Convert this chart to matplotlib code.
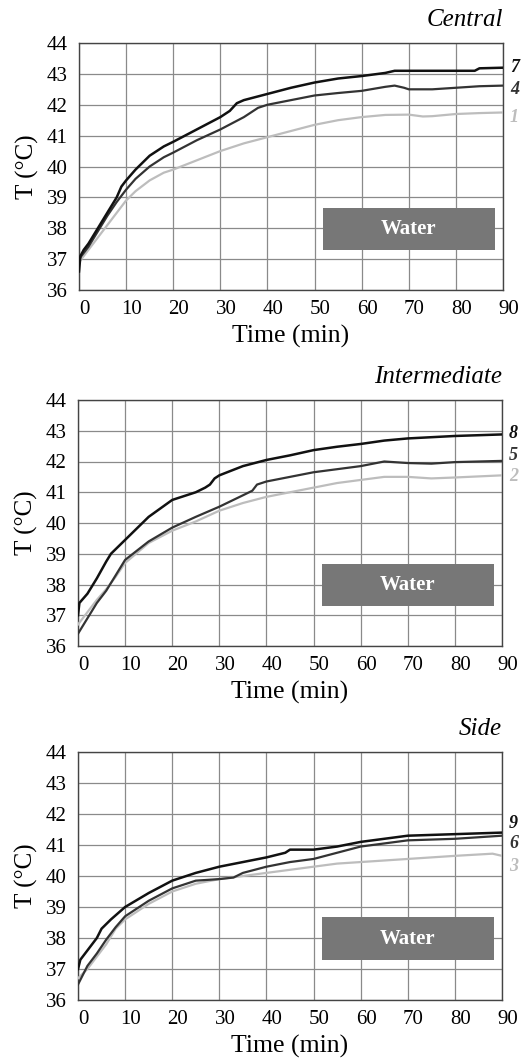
import numpy as np
import matplotlib
matplotlib.use("Agg")
import matplotlib.pyplot as plt
from matplotlib.patches import Rectangle
from matplotlib.transforms import ScaledTranslation

plt.rcParams['font.family'] = ['Liberation Serif', 'DejaVu Serif']

# Central probes (7, 4, 1)
t_c7 = [0, 0.3, 1, 2, 4, 6, 8, 9, 10, 12, 15, 18, 20, 25, 30, 32, 33.5, 35, 40, 45, 50, 55, 60, 65, 67, 70, 75, 80, 84, 85, 90]
c7 = [36.6, 37.1, 37.3, 37.5, 38.0, 38.5, 39.0, 39.35, 39.55, 39.9, 40.35, 40.65, 40.8, 41.2, 41.6, 41.8, 42.05, 42.15, 42.35, 42.55, 42.72, 42.85, 42.93, 43.03, 43.1, 43.1, 43.1, 43.1, 43.1, 43.18, 43.2]
t_c4 = [0, 2, 4, 6, 8, 10, 12, 15, 18, 20, 25, 30, 35, 38, 40, 45, 50, 55, 60, 65, 67, 69, 70, 75, 80, 85, 90]
c4 = [37.0, 37.4, 37.9, 38.4, 38.85, 39.25, 39.6, 40.0, 40.3, 40.45, 40.85, 41.2, 41.6, 41.9, 42.0, 42.15, 42.3, 42.38, 42.45, 42.58, 42.62, 42.55, 42.5, 42.5, 42.55, 42.6, 42.62]
t_c1 = [0, 2, 4, 6, 8, 10, 12, 15, 18, 20, 25, 30, 35, 40, 45, 50, 55, 60, 65, 70, 73, 75, 80, 85, 90]
c1 = [36.9, 37.3, 37.7, 38.1, 38.5, 38.9, 39.2, 39.55, 39.8, 39.9, 40.2, 40.5, 40.75, 40.95, 41.15, 41.35, 41.5, 41.6, 41.67, 41.68, 41.62, 41.63, 41.7, 41.73, 41.75]

# Intermediate probes (8, 5, 2)
t_i8 = [0, 0.3, 2, 4, 6, 7, 10, 15, 20, 25, 27, 28, 29, 30, 35, 40, 45, 50, 55, 60, 65, 70, 80, 90]
i8 = [37.0, 37.4, 37.7, 38.2, 38.75, 39.0, 39.45, 40.2, 40.75, 41.0, 41.15, 41.25, 41.45, 41.55, 41.85, 42.05, 42.2, 42.37, 42.48, 42.57, 42.68, 42.75, 42.83, 42.88]
t_i5 = [0, 2, 4, 6, 8, 10, 15, 20, 25, 30, 35, 37, 38, 40, 45, 50, 55, 60, 65, 70, 75, 80, 85, 90]
i5 = [36.4, 36.9, 37.4, 37.8, 38.3, 38.8, 39.4, 39.85, 40.2, 40.53, 40.9, 41.05, 41.25, 41.35, 41.5, 41.65, 41.75, 41.85, 42.0, 41.95, 41.93, 41.98, 42.0, 42.02]
t_i2 = [0, 2, 4, 6, 8, 10, 15, 20, 25, 30, 35, 40, 45, 50, 55, 60, 65, 70, 75, 80, 90]
i2 = [36.7, 37.1, 37.5, 37.85, 38.25, 38.7, 39.35, 39.75, 40.05, 40.4, 40.65, 40.85, 41.0, 41.15, 41.3, 41.4, 41.5, 41.5, 41.45, 41.48, 41.55]

# Side probes (9, 6, 3)
t_s9 = [0, 0.5, 2, 4, 5, 7, 10, 15, 20, 25, 30, 35, 40, 44, 45, 50, 55, 60, 65, 70, 80, 90]
s9 = [37.0, 37.3, 37.6, 38.0, 38.3, 38.6, 39.0, 39.45, 39.85, 40.1, 40.3, 40.45, 40.6, 40.75, 40.85, 40.85, 40.95, 41.1, 41.2, 41.3, 41.35, 41.4]
t_s6 = [0, 2, 4, 6, 8, 10, 15, 20, 25, 30, 33, 35, 40, 45, 50, 55, 60, 65, 70, 80, 90]
s6 = [36.5, 37.1, 37.5, 37.95, 38.35, 38.7, 39.2, 39.6, 39.85, 39.9, 39.95, 40.1, 40.3, 40.45, 40.55, 40.75, 40.95, 41.05, 41.15, 41.2, 41.3]
t_s3 = [0, 2, 4, 6, 8, 10, 15, 20, 25, 30, 35, 40, 45, 50, 55, 60, 70, 80, 88, 90]
s3 = [36.7, 37.0, 37.4, 37.8, 38.3, 38.6, 39.1, 39.5, 39.75, 39.9, 40.0, 40.1, 40.2, 40.3, 40.4, 40.45, 40.55, 40.65, 40.72, 40.65]

titles = ["Central", "Intermediate", "Side"]
panels = [
    [(t_c7, c7, "7"), (t_c4, c4, "4"), (t_c1, c1, "1")],
    [(t_i8, i8, "8"), (t_i5, i5, "5"), (t_i2, i2, "2")],
    [(t_s9, s9, "9"), (t_s6, s6, "6"), (t_s3, s3, "3")],
]
label_y = [[43.2, 42.5, 41.6], [42.9, 42.2, 41.5], [41.7, 41.05, 40.3]]
colors = ["#111111", "#333333", "#bdbdbd"]
widths = [1.8, 1.6, 1.6]

W, H = 521, 1061
fig = plt.figure(figsize=(W / 100, H / 100), dpi=100)
boxes = [(79, 43, 503, 290), (78, 400, 502, 646), (78, 752, 502, 1000)]
shift = ScaledTranslation(4 / 72, 0, fig.dpi_scale_trans)

for k, (l, t, r, b) in enumerate(boxes):
    ax = fig.add_axes([l / W, 1 - b / H, (r - l) / W, (b - t) / H])
    for j, (x, y, name) in enumerate(panels[k]):
        ax.plot(x, y, color=colors[j], lw=widths[j], zorder=3 - j * 0.1)
        ax.text(91.5, label_y[k][j], name, color=colors[j], fontsize=13,
                fontweight='bold', style='italic', va='center', ha='left', clip_on=False)
    ax.set_xlim(0, 90)
    ax.set_ylim(36, 44)
    ax.set_xticks(range(0, 91, 10))
    ax.set_yticks(range(36, 45))
    ax.grid(True, color="#8a8a8a", lw=0.9)
    ax.set_axisbelow(True)
    ax.tick_params(length=0, labelsize=15)
    ax.tick_params(axis='x', pad=7)
    ax.tick_params(axis='y', pad=8)
    for lbl in ax.get_xticklabels():
        lbl.set_transform(lbl.get_transform() + shift)
    for s in ax.spines.values():
        s.set_color("#444444")
        s.set_linewidth(1.0)
    ax.add_patch(Rectangle((51.8, 37.3), 36.5, 1.37, facecolor="#777777",
                           edgecolor="none", zorder=2.5))
    ax.text(70, 37.98, "Water", color="white", fontsize=15, fontweight='bold',
            ha='center', va='center', zorder=4)
    ax.set_ylabel("T (°C)", fontsize=18)
    ax.yaxis.set_label_coords(-0.095, 0.5)
    ax.set_xlabel("Time (min)", fontsize=18.5)
    ax.xaxis.set_label_coords(0.5, -0.142)
    ax.text(1.0, 1.069, titles[k], transform=ax.transAxes, ha='right', va='baseline',
            fontsize=18, style='italic')

fig.savefig("out.png", dpi=100)
